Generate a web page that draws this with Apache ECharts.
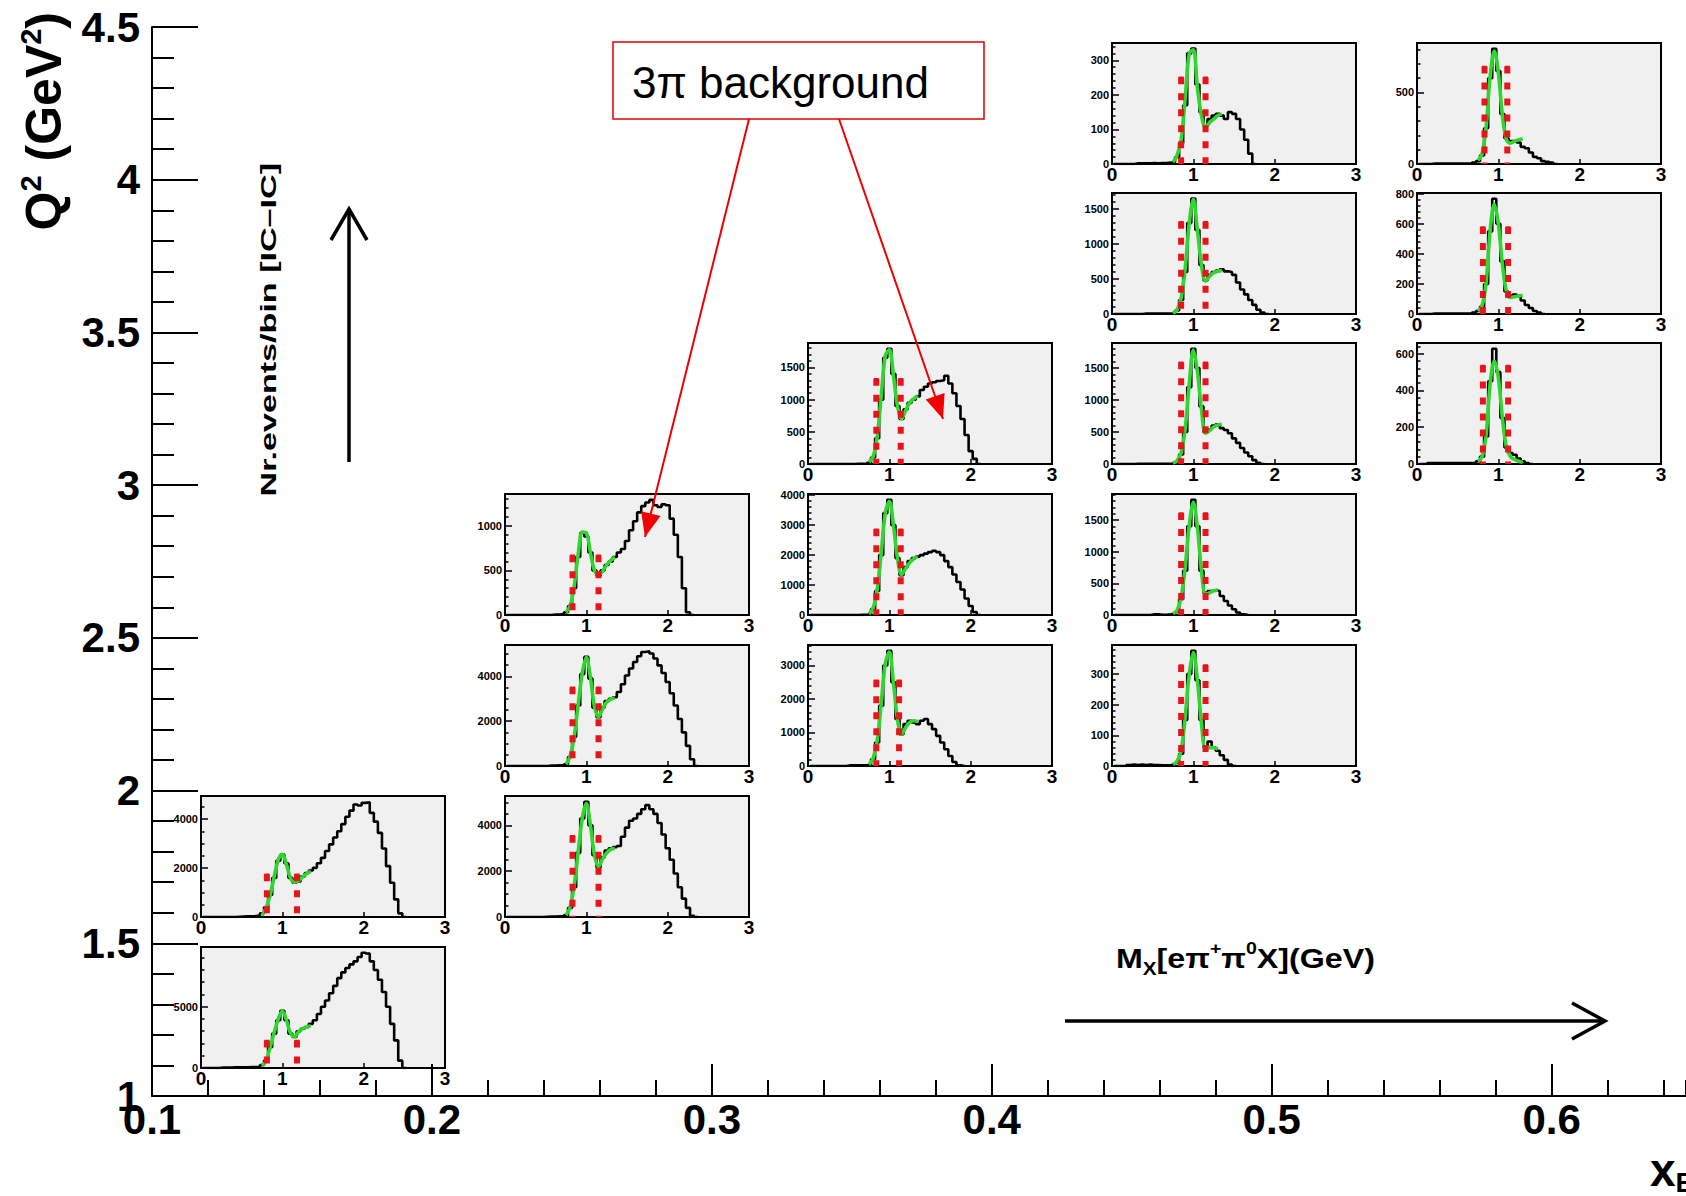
<!DOCTYPE html>
<html>
<head>
<meta charset="utf-8">
<title>Q2 vs xB missing-mass spectra</title>
<script src="https://cdn.jsdelivr.net/npm/echarts@6/dist/echarts.min.js"></script>
<style>
  html, body { margin: 0; padding: 0; background: #ffffff; }
  #chart { width: 1686px; height: 1196px; }
</style>
</head>
<body>
<div id="chart"></div>
<script>
// ---- main kinematic axes (tick labels) ----
const X_TICKS = [0.1, 0.2, 0.3, 0.4, 0.5, 0.6];
const Y_TICKS = [1, 1.5, 2, 2.5, 3, 3.5, 4, 4.5];
const X_END = 0.648;   // right end of the xB axis

// ---- histogram binning: bin centres start at 0.05 GeV, width 0.05 GeV ----
const BIN_C0 = 0.05;
const BIN_W = 0.05;
// fit curves are sampled from 0.75 GeV every 0.05 GeV
const FIT_X0 = 0.75;
const FIT_DX = 0.05;

// ---- Mx spectra (events per bin), one per (xB, Q2) cell ----
const histA = [0,0,0,0,0,0,0,0,10, 20,30,30,40,60,150,400,900,1600,2300, 2550,2200,1600,1400,1450,1650,1800,1900,2010,2200, 2420,2700,2970,3250,3510,3800,4100,4350,4600,4560, 4670,4694,4260,3900,3440,2800,2080,1400,720,150, 0];
const histB = [0,0,0,0,30,40,40,50,50, 60,60,70,80,100,250,600,1700,2800,3900, 4670,3900,2800,2530,3000,3200,3350,3600,3900,4400, 5000,5500,6100,6700,7330,7800,8160,8450,8700,9050, 9400,9340,8700,8000,7200,6200,5000,3600,2250,600, 0];
const histC = [0,0,0,0,0,0,0,0,0, 0,0,5,5,10,30,100,300,650,920, 880,700,500,440,500,560,600,650,700,740, 830,950,1050,1150,1220,1260,1290,1230,1210,1240, 1230,1080,900,650,300,30,0];
const histD = [0,0,0,0,0,0,0,0,0, 0,20,20,30,40,80,400,1300,2700,4100, 4870,3900,2600,2180,2600,2900,3000,3070,3300,3650, 4040,4350,4640,4900,5090,5120,5020,4800,4490,4150, 3750,3250,2700,2100,1500,900,300,0];
const histE = [0,0,0,0,0,0,0,0,0, 10,20,20,30,40,80,400,1300,2800,4300, 5030,4000,2700,2170,2600,2900,3000,3050,3100,3500, 3900,4200,4300,4500,4700,4880,4700,4500,4100,3600, 3000,2500,1900,1300,800,400,50,0];
const histF = [0,0,0,0,0,0,0,0,0, 0,0,5,5,5,20,100,400,1000,1650, 1790,1400,900,700,850,950,1000,1050,1150,1200, 1250,1270,1290,1300,1370,1250,1100,900,700,450, 200,80,0];
const histG = [0,0,0,0,0,0,0,0,0, 0,0,0,5,10,20,200,800,2000,3400, 3850,3000,1900,1330,1600,1800,1900,1950,2000,2050, 2100,2140,2100,2000,1800,1600,1350,1100,850,550, 300,100,0];
const histH = [0,0,0,0,0,0,0,0,0, 20,20,20,20,20,40,200,700,1800,3000, 3440,2500,1400,950,1250,1350,1300,1250,1350,1400, 1250,1100,900,700,500,300,120,20,0];
const histI = [0,0,0,0,0,2,2,2,2, 3,2,3,3,4,5,20,60,170,320, 334,230,150,110,130,140,145,140,130,150, 145,130,100,70,30,0];
const histJ = [0,0,0,0,0,0,0,5,5, 5,5,5,5,5,10,50,200,600,1300, 1650,1200,700,480,560,600,620,640,610,600, 560,450,350,280,200,130,60,20,0];
const histK = [0,0,0,0,0,5,5,5,5, 5,5,5,5,5,10,30,150,500,1200, 1800,1500,900,500,540,600,620,560,530,480, 400,330,250,180,120,60,20,0];
const histL = [0,0,0,0,0,0,0,0,0, 10,10,5,5,10,20,50,250,700,1400, 1820,1400,700,350,380,390,380,300,220,150, 90,40,10,0];
const histM = [0,0,0,3,5,3,5,3,5, 3,3,2,2,3,5,10,40,150,300, 376,280,150,60,80,60,50,35,20,5, 0];
const histN = [0,0,0,3,3,3,3,3,3, 3,3,3,3,10,20,60,250,600,806, 650,350,180,160,160,150,120,110,80,50, 40,20,15,10,0];
const histO = [0,0,0,3,3,3,3,3,3, 3,3,3,3,10,20,50,200,550,767, 600,350,150,120,130,120,90,60,40,20, 10,0];
const histP = [0,0,5,5,5,5,5,5,5, 5,5,5,5,5,15,40,150,450,627, 500,250,90,60,50,30,15,5,0];

// ---- fitted omega peak + background ----
const fitA = [60,380,900,1650,2350,2560,2150,1600,1420,1480,1640,1780,1870];
const fitB = [200,600,1700,2900,4000,4650,3900,2850,2550,2950,3200,3350,3450];
const fitC = [30,100,320,680,930,920,700,500,450,490,560,610,650];
const fitD = [80,420,1300,2750,4150,4850,3950,2650,2200,2550,2850,2980,3050];
const fitE = [80,420,1350,2850,4300,4950,4000,2700,2200,2550,2800,2950,3000];
const fitF = [30,110,420,1050,1680,1780,1380,900,700,830,950,1010,1060];
const fitG = [40,220,850,2050,3400,3800,3000,1900,1350,1550,1750,1880,1950];
const fitH = [40,220,750,1850,3050,3400,2500,1400,950,1150,1300,1350,1330];
const fitI = [5,25,70,190,320,330,220,140,105,120,130,140,145];
const fitJ = [10,60,230,650,1300,1640,1200,700,470,540,590,610,620];
const fitK = [15,50,180,550,1250,1780,1450,850,480,520,580,610,620];
const fitL = [20,70,280,750,1420,1780,1380,700,330,350,380,400];
const fitM = [5,15,50,160,300,370,280,140,55,60,60,55];
const fitN = [25,70,260,620,790,640,340,170,145,160,170,175];
const fitO = [20,55,210,560,730,600,330,150,110,115,120,125];
const fitP = [15,40,160,440,560,470,250,90,40,25,15,10];

// ---- omega mass window: [low edge, high edge, box height] ----
const cutA = [0.81, 1.18, 1750];
const cutB = [0.81, 1.18, 2250];
const cutC = [0.83, 1.15, 670];
const cutD = [0.83, 1.15, 3520];
const cutE = [0.83, 1.15, 3550];
const cutF = [0.84, 1.14, 1325];
const cutG = [0.84, 1.14, 2860];
const cutH = [0.84, 1.12, 2560];
const cutI = [0.85, 1.15, 251];
const cutJ = [0.85, 1.15, 1320];
const cutK = [0.85, 1.15, 1590];
const cutL = [0.85, 1.15, 1612];
const cutM = [0.85, 1.15, 330];
const cutN = [0.83, 1.11, 682];
const cutO = [0.81, 1.12, 578];
const cutP = [0.81, 1.12, 536];

// ---- per-panel y-axis range and label step ----
const yMaxes  = [4950, 9870, 1356, 5400, 5280, 1880, 4040, 3610, 350, 1730, 1890, 1910, 395, 846, 805, 658];
const yLabelStep = [2000, 5000, 500, 2000, 2000, 500, 1000, 1000, 100, 500, 500, 500, 100, 500, 200, 200];
const yMinorSplit = [4, 5, 5, 4, 4, 5, 5, 5, 5, 5, 5, 5, 5, 5, 5, 5];

// ---- layout of the inset panels ----
const COL_LEFT = [201, 505, 808, 1112, 1417];
const ROW_TOP = [43, 193, 343, 494, 645, 796, 947];
const PANEL_W = 244;
const PANEL_H = 121;

const panels = [
  { col: 0, row: 5, hist: histA, fit: fitA, cut: cutA },
  { col: 0, row: 6, hist: histB, fit: fitB, cut: cutB },
  { col: 1, row: 3, hist: histC, fit: fitC, cut: cutC },
  { col: 1, row: 4, hist: histD, fit: fitD, cut: cutD },
  { col: 1, row: 5, hist: histE, fit: fitE, cut: cutE },
  { col: 2, row: 2, hist: histF, fit: fitF, cut: cutF },
  { col: 2, row: 3, hist: histG, fit: fitG, cut: cutG },
  { col: 2, row: 4, hist: histH, fit: fitH, cut: cutH },
  { col: 3, row: 0, hist: histI, fit: fitI, cut: cutI },
  { col: 3, row: 1, hist: histJ, fit: fitJ, cut: cutJ },
  { col: 3, row: 2, hist: histK, fit: fitK, cut: cutK },
  { col: 3, row: 3, hist: histL, fit: fitL, cut: cutL },
  { col: 3, row: 4, hist: histM, fit: fitM, cut: cutM },
  { col: 4, row: 0, hist: histN, fit: fitN, cut: cutN },
  { col: 4, row: 1, hist: histO, fit: fitO, cut: cutO },
  { col: 4, row: 2, hist: histP, fit: fitP, cut: cutP }
];

const FONT = '"Liberation Sans", Arial, Helvetica, sans-serif';
const BLACK = '#000000';
const RED = '#e8141b';
const GREEN = '#2fd62f';

const isMajor = v => X_TICKS.some(t => Math.abs(t - v) < 1e-6);

// ---- main frame: xB horizontally, Q2 vertically ----
const grids = [{ left: 152, top: 27, right: 0, height: 1069, show: false }];
const xAxes = [
  { // major ticks and labels every 0.1
    type: 'value', gridIndex: 0, position: 'bottom',
    min: X_TICKS[0], max: X_END, interval: X_TICKS[1] - X_TICKS[0],
    axisLine: { show: true, onZero: false, lineStyle: { color: BLACK, width: 2 } },
    axisTick: { show: true, inside: true, length: 32, lineStyle: { color: BLACK, width: 2 } },
    axisLabel: {
      color: BLACK, fontFamily: FONT, fontWeight: 'bold', fontSize: 42, margin: 2,
      showMaxLabel: false,
      formatter: v => (isMajor(v) ? v.toFixed(1) : '')
    },
    splitLine: { show: false }
  },
  { // minor ticks every 0.02
    type: 'value', gridIndex: 0, position: 'bottom',
    min: X_TICKS[0], max: X_END, interval: 0.02,
    axisLine: { show: false, onZero: false },
    axisTick: { show: true, inside: true, length: 16, lineStyle: { color: BLACK, width: 2 } },
    axisLabel: { show: false },
    splitLine: { show: false }
  }
];
const yAxes = [{
  type: 'value', gridIndex: 0,
  min: Y_TICKS[0], max: Y_TICKS[Y_TICKS.length - 1], interval: Y_TICKS[1] - Y_TICKS[0],
  axisLine: { show: true, onZero: false, lineStyle: { color: BLACK, width: 2 } },
  axisTick: { show: true, inside: true, length: 46, lineStyle: { color: BLACK, width: 2 } },
  minorTick: { show: true, splitNumber: 5, length: 22, lineStyle: { color: BLACK, width: 2 } },
  axisLabel: {
    color: BLACK, fontFamily: FONT, fontWeight: 'bold', fontSize: 42, margin: 12,
    formatter: v => String(Math.round(v * 10) / 10)
  },
  splitLine: { show: false }, minorSplitLine: { show: false }
}];
const series = [];
const X_OFFSET = xAxes.length - 1;

panels.forEach((p, i) => {
  const gi = i + 1;
  const xi = i + 1 + X_OFFSET;
  grids.push({
    left: COL_LEFT[p.col], top: ROW_TOP[p.row], width: PANEL_W, height: PANEL_H,
    show: true, backgroundColor: '#f0f0f0', borderColor: BLACK, borderWidth: 2
  });
  xAxes.push({
    type: 'value', gridIndex: gi, min: 0, max: 3, interval: 1,
    axisLine: { show: true, onZero: false, lineStyle: { color: BLACK, width: 2 } },
    axisTick: { show: true, inside: true, length: 5, lineStyle: { color: BLACK, width: 1.5 } },
    axisLabel: { color: BLACK, fontFamily: FONT, fontWeight: 'bold', fontSize: 19, margin: 1 },
    splitLine: { show: false }
  });
  yAxes.push({
    type: 'value', gridIndex: gi, min: 0, max: yMaxes[i], interval: yLabelStep[i],
    axisLine: { show: true, onZero: false, lineStyle: { color: BLACK, width: 2 } },
    axisTick: { show: true, inside: true, length: 7, lineStyle: { color: BLACK, width: 1.5 } },
    minorTick: { show: true, splitNumber: yMinorSplit[i], length: 3.5, lineStyle: { color: BLACK, width: 1.5 } },
    axisLabel: {
      color: BLACK, fontFamily: FONT, fontWeight: 'bold', fontSize: 11, margin: 3,
      showMaxLabel: false, formatter: v => String(v)
    },
    splitLine: { show: false }, minorSplitLine: { show: false }
  });

  // step histogram: each bin drawn from its lower edge
  const histPts = p.hist.map((v, k) => [BIN_C0 + (k - 0.5) * BIN_W, v]);
  const last = p.hist.length - 1;
  histPts.push([BIN_C0 + (last + 0.5) * BIN_W, p.hist[last]]);
  series.push({
    type: 'line', xAxisIndex: xi, yAxisIndex: gi, data: histPts, step: 'end',
    symbol: 'none', lineStyle: { color: BLACK, width: 2.6 }, z: 2, silent: true
  });

  const fitPts = p.fit.map((v, k) => [FIT_X0 + k * FIT_DX, v]);
  series.push({
    type: 'line', xAxisIndex: xi, yAxisIndex: gi, data: fitPts, smooth: 0.35,
    symbol: 'none', lineStyle: { color: GREEN, width: 3.6 }, z: 3, silent: true
  });

  const [lo, hi, top] = p.cut;
  [lo, hi].forEach(edge => {
    series.push({
      type: 'line', xAxisIndex: xi, yAxisIndex: gi, data: [[edge, top], [edge, 0]],
      symbol: 'none', lineStyle: { color: RED, width: 6, type: [7, 9] }, z: 4, silent: true
    });
    series.push({
      type: 'line', xAxisIndex: xi, yAxisIndex: gi, data: [[edge - 0.03, top], [edge + 0.03, top]],
      symbol: 'none', lineStyle: { color: RED, width: 1.5 }, z: 4, silent: true
    });
  });
});

// ---- annotations ----
function arrowHead(tail, tip, len, half) {
  const dx = tip[0] - tail[0], dy = tip[1] - tail[1];
  const d = Math.hypot(dx, dy);
  const ux = dx / d, uy = dy / d;
  const bx = tip[0] - ux * len, by = tip[1] - uy * len;
  return [[tip[0], tip[1]], [bx - uy * half, by + ux * half], [bx + uy * half, by - ux * half]];
}
const redTail1 = [749, 119], redTip1 = [645, 537];
const redTail2 = [839, 119], redTip2 = [943, 419];

const graphic = [
  // Q2 axis title
  {
    type: 'text', x: 44, y: 12, rotation: Math.PI / 2, z: 100,
    style: {
      text: '{m|Q}{s|2}{m| (GeV}{s|2}{m|)}',
      align: 'right', verticalAlign: 'middle', textAlign: 'right', textVerticalAlign: 'middle',
      rich: {
        m: { fontFamily: FONT, fontWeight: 'bold', fontSize: 50, lineHeight: 56, fill: BLACK },
        s: { fontFamily: FONT, fontWeight: 'bold', fontSize: 29, lineHeight: 56, verticalAlign: 'top', fill: BLACK }
      }
    }
  },
  // xB axis title
  {
    type: 'text', x: 1650, y: 1170, z: 100,
    style: {
      text: '{m|x}{s|B}',
      align: 'left', verticalAlign: 'middle', textAlign: 'left', textVerticalAlign: 'middle',
      rich: {
        m: { fontFamily: FONT, fontWeight: 'bold', fontSize: 46, lineHeight: 52, fill: BLACK },
        s: { fontFamily: FONT, fontWeight: 'bold', fontSize: 28, lineHeight: 52, verticalAlign: 'bottom', fill: BLACK }
      }
    }
  },
  // inset y-axis quantity
  {
    type: 'text', x: 268, y: 163, rotation: Math.PI / 2, scaleX: 1.55, z: 100,
    style: {
      text: 'Nr.events/bin [IC\u2013IC]',
      align: 'right', verticalAlign: 'middle', textAlign: 'right', textVerticalAlign: 'middle',
      fontFamily: FONT, fontWeight: 'bold', fontSize: 22, fill: BLACK
    }
  },
  // upward arrow
  { type: 'polyline', z: 100, shape: { points: [[349, 462], [349, 210]] }, style: { stroke: BLACK, lineWidth: 3.5, fill: null } },
  { type: 'polyline', z: 100, shape: { points: [[331, 240], [349, 209], [367, 240]] }, style: { stroke: BLACK, lineWidth: 3.5, fill: null } },
  // inset x-axis quantity
  {
    type: 'text', x: 1116, y: 958, scaleX: 1.15, z: 100,
    style: {
      text: '{m|M}{sub|X}{m|[e\u03c0}{sup|+}{m|\u03c0}{sup|0}{m|X](GeV)}',
      align: 'left', verticalAlign: 'middle', textAlign: 'left', textVerticalAlign: 'middle',
      rich: {
        m: { fontFamily: FONT, fontWeight: 'bold', fontSize: 28, lineHeight: 38, fill: BLACK },
        sub: { fontFamily: FONT, fontWeight: 'bold', fontSize: 18, lineHeight: 38, verticalAlign: 'bottom', fill: BLACK },
        sup: { fontFamily: FONT, fontWeight: 'bold', fontSize: 17, lineHeight: 38, verticalAlign: 'top', fill: BLACK }
      }
    }
  },
  // rightward arrow
  { type: 'polyline', z: 100, shape: { points: [[1065, 1021], [1604, 1021]] }, style: { stroke: BLACK, lineWidth: 3.5, fill: null } },
  { type: 'polyline', z: 100, shape: { points: [[1572, 1003], [1605, 1021], [1572, 1039]] }, style: { stroke: BLACK, lineWidth: 3.5, fill: null } },
  // 3pi background callout
  { type: 'rect', z: 100, shape: { x: 613, y: 42, width: 371, height: 77 }, style: { fill: '#ffffff', stroke: '#e00000', lineWidth: 1.5 } },
  {
    type: 'text', x: 632, y: 82, z: 101,
    style: {
      text: '3\u03c0 background', align: 'left', verticalAlign: 'middle', textAlign: 'left', textVerticalAlign: 'middle',
      fontFamily: FONT, fontSize: 44, fill: BLACK
    }
  },
  { type: 'polyline', z: 100, shape: { points: [redTail1, redTip1] }, style: { stroke: '#f00000', lineWidth: 2, fill: null } },
  { type: 'polygon', z: 100, shape: { points: arrowHead(redTail1, redTip1, 24, 10) }, style: { fill: '#f00000' } },
  { type: 'polyline', z: 100, shape: { points: [redTail2, redTip2] }, style: { stroke: '#f00000', lineWidth: 2, fill: null } },
  { type: 'polygon', z: 100, shape: { points: arrowHead(redTail2, redTip2, 24, 10) }, style: { fill: '#f00000' } }
];

const chart = echarts.init(document.getElementById('chart'), null, { renderer: 'svg', width: 1686, height: 1196 });
chart.setOption({
  animation: false,
  backgroundColor: '#ffffff',
  grid: grids,
  xAxis: xAxes,
  yAxis: yAxes,
  series: series,
  graphic: graphic
});
</script>
</body>
</html>
